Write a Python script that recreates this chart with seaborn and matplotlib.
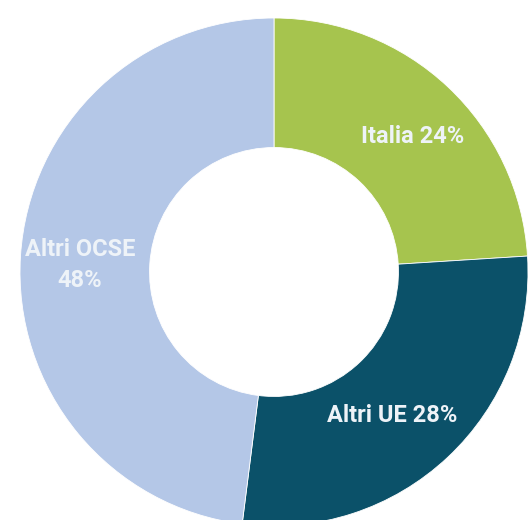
import matplotlib
matplotlib.use("Agg")
import matplotlib.pyplot as plt
import seaborn as sns

# Share of the total by area
categories = ["Italia", "Altri UE", "Altri OCSE"]
shares = [24, 28, 48]
colors = ["#a6c44e", "#0b5169", "#b4c7e7"]

# Label layout: (x, y) in units of the outer radius, and line break style
label_pos = [(0.547, 0.535), (0.465, -0.563), (-0.764, 0.028)]
label_sep = [" ", " ", "\n"]

sns.set_theme(style="white")
plt.rcParams["font.family"] = ["Roboto", "DejaVu Sans"]

fig = plt.figure(figsize=(5.32, 5.20), dpi=100)
ax = fig.add_axes([0, 0, 1, 1])

wedges, _ = ax.pie(
    shares,
    colors=colors,
    startangle=90,
    counterclock=False,
    radius=1.0,
    wedgeprops=dict(width=0.51, edgecolor="white", linewidth=0.6),
)

for name, val, (x, y), sep in zip(categories, shares, label_pos, label_sep):
    ax.text(x, y, f"{name}{sep}{val}%", ha="center", va="center",
            color="#eef3f8", fontsize=17, fontweight="bold", linespacing=1.45)

ax.set_aspect("equal")
ax.set_xlim(-274 / 254, 258 / 254)
ax.set_ylim(-248 / 254, 272 / 254)
ax.axis("off")

fig.savefig("out.png", dpi=100, facecolor="white")
